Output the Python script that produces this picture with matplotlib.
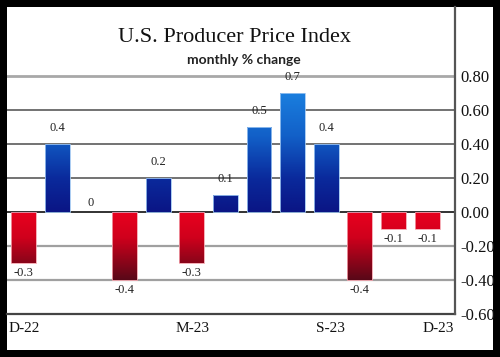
import matplotlib
matplotlib.use("Agg")
import matplotlib.pyplot as plt
import numpy as np
from matplotlib.colors import LinearSegmentedColormap, Normalize
from matplotlib.patches import Rectangle
from matplotlib.transforms import ScaledTranslation

plt.rcParams['axes.unicode_minus'] = False

months = ["D-22", "J-23", "F-23", "M-23", "A-23", "M-23", "J-23", "J-23",
          "A-23", "S-23", "O-23", "N-23", "D-23"]
values = [-0.3, 0.4, 0.0, -0.4, 0.2, -0.3, 0.1, 0.5, 0.7, 0.4, -0.4, -0.1, -0.1]
value_labels = ["-0.3", "0.4", "0", "-0.4", "0.2", "-0.3", "0.1", "0.5", "0.7",
                "0.4", "-0.4", "-0.1", "-0.1"]
shown_xticks = [0, 5, 9, 12]
yticks = [-0.6, -0.4, -0.2, 0.0, 0.2, 0.4, 0.6, 0.8]

W, H = 500, 357
fig = plt.figure(figsize=(W / 100, H / 100), dpi=100, facecolor="black")

# white panel
fig.patches.append(Rectangle((7 / W, (H - 350) / H), (493 - 7) / W, (350 - 7) / H,
                             transform=fig.transFigure, facecolor="white",
                             edgecolor="none", zorder=-5))

ax = fig.add_axes([7 / W, (H - 314) / H, (455 - 7) / W, (314 - 7) / H])
ax.set_zorder(1)
ax.set_facecolor("white")

# gridlines
grid_styles = {0.8: ("#a8a8a8", 2.0), 0.6: ("#5a5a5a", 1.2), 0.4: ("#5a5a5a", 1.2),
               0.2: ("#5a5a5a", 1.2), 0.0: ("#222222", 1.3), -0.2: ("#a0a0a0", 1.6),
               -0.4: ("#a0a0a0", 1.6)}
for yv, (c, lw) in grid_styles.items():
    ax.axhline(yv, color=c, lw=lw, zorder=1)

# gradient colormap by value
vmin, vmax = -0.45, 0.75
norm = Normalize(vmin, vmax)
def pos(v):
    return (v - vmin) / (vmax - vmin)
cmap = LinearSegmentedColormap.from_list("ppi", [
    (0.0, "#4a0514"),
    (pos(-0.4), "#5a0818"),
    (pos(-0.15), "#d0001c"),
    (pos(-0.001), "#e8001e"),
    (pos(0.001), "#0a1585"),
    (pos(0.2), "#0a2a9c"),
    (pos(0.45), "#1260c8"),
    (pos(0.7), "#1a7ede"),
    (1.0, "#1a82e2"),
])

bw = 0.74
for i, v in enumerate(values):
    if v == 0:
        continue
    lo, hi = min(0, v), max(0, v)
    ys = np.linspace(hi, lo, 100).reshape(-1, 1)
    ax.imshow(ys, cmap=cmap, norm=norm, aspect="auto",
              extent=(i - bw / 2, i + bw / 2, lo, hi), zorder=2,
              interpolation="bilinear")
    edge = "#9cc4f0" if v > 0 else "#f2a0aa"
    ax.add_patch(Rectangle((i - bw / 2, lo), bw, hi - lo, facecolor="none",
                           edgecolor=edge, lw=0.6, zorder=3))

for i, (v, lab) in enumerate(zip(values, value_labels)):
    if v >= 0:
        ax.annotate(lab, (i, v), xytext=(0, 7 if v > 0 else 2), textcoords="offset points",
                    ha="center", va="bottom", fontsize=9, family="Liberation Serif",
                    color="#222222", zorder=4)
    else:
        ax.annotate(lab, (i, v), xytext=(0, -3), textcoords="offset points",
                    ha="center", va="top", fontsize=9, family="Liberation Serif",
                    color="#222222", zorder=4)

ax.set_aspect("auto")
ax.set_xlim(-0.5, 12.83)
ax.set_ylim(-0.6, 1.206)

# axes styling
for s in ["top", "left"]:
    ax.spines[s].set_visible(False)
ax.spines["right"].set_color("#555555")
ax.spines["right"].set_linewidth(1.6)
ax.spines["bottom"].set_color("#444444")
ax.spines["bottom"].set_linewidth(1.6)
ax.spines["right"].set_zorder(5)

ax.yaxis.tick_right()
ax.set_yticks(yticks)
ax.set_yticklabels([f"{t:.2f}" for t in yticks], family="Liberation Serif",
                   fontsize=12, color="#111111")
ax.tick_params(axis="y", length=0, pad=4)

ax.set_xticks(shown_xticks)
ax.set_xticklabels([months[i] for i in shown_xticks], family="Liberation Serif",
                   fontsize=11, color="#111111")
ax.tick_params(axis="x", length=0, pad=6)
label_shift_px = [0, 1, 4, 11]
for lbl, dx in zip(ax.get_xticklabels(), label_shift_px):
    lbl.set_transform(lbl.get_transform() + ScaledTranslation(dx / 100, 0, fig.dpi_scale_trans))

fig.text(235 / W, 1 - 38 / H, "U.S. Producer Price Index", family="Liberation Serif",
         fontsize=16, ha="center", va="center", color="#111111", zorder=10)
fig.text(244 / W, 1 - 60 / H, "monthly % change", family="Lato", fontweight="bold",
         fontsize=10, ha="center", va="center", color="#222222", zorder=10)

fig.savefig("out.png", dpi=100, facecolor="black")
